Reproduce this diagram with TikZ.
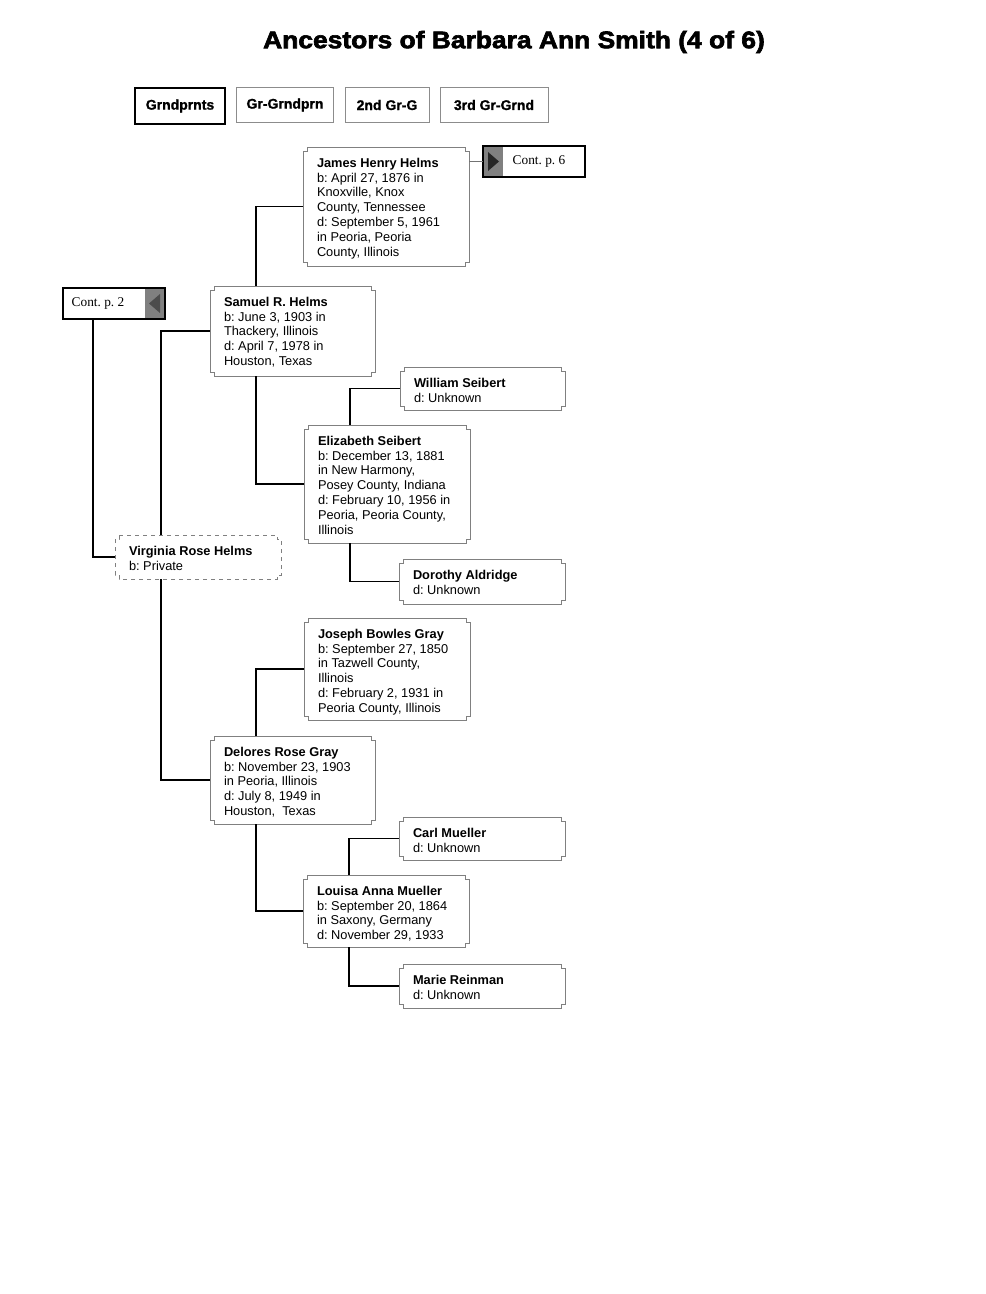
\documentclass[tikz,border=0pt]{standalone}
\usepackage{fontspec}
\setmainfont{Liberation Sans}
\newfontfamily\seriffont{Liberation Serif}
\newfontfamily\heavyfont{Liberation Sans Bold}[FakeBold=2.5]
\newfontfamily\semiheavy{Liberation Sans Bold}[FakeBold=1.2]
\frenchspacing
\tikzset{
  boxn/.style={rectangle, draw=none, inner sep=0pt, outer sep=0pt},
  outline/.style={draw=black!50, line width=0.7pt},
  txt/.style={inner sep=0pt, outer sep=0pt, align=left, anchor=north west,
    font=\fontsize{9.6}{11.1}\selectfont},
  link/.style={line width=1.3pt, black},
  hdr/.style={rectangle, draw=black!45, line width=0.7pt, inner sep=0pt, outer sep=0pt,
    font=\semiheavy\fontsize{10.5}{12}\selectfont},
  hdrsel/.style={hdr, draw=black, line width=1.2pt},
  contbox/.style={rectangle, draw=black, line width=1.3pt, inner sep=0pt, outer sep=0pt,
    minimum width=76.5pt, minimum height=23.25pt},
  conttxt/.style={inner sep=0pt, font=\seriffont\fontsize{10}{12}\selectfont},
}
% #1 extra outline style, #2 name, #3 x1, #4 y1, #5 x2, #6 y2, #7 text
\newcommand\pbox[7][]{%
  \node[boxn, minimum width={(#5-#3)*0.75pt}, minimum height={(#6-#4)*0.75pt}]
    (#2) at ({(#3+#5)/2},{(#4+#6)/2}) {};
  \draw[outline,#1] (#3+4,#4) -- (#5-4,#4) -- (#5-4,#4+4) -- (#5,#4+4) -- (#5,#6-4)
    -- (#5-4,#6-4) -- (#5-4,#6) -- (#3+4,#6) -- (#3+4,#6-4) -- (#3,#6-4) -- (#3,#4+4)
    -- (#3+4,#4+4) -- cycle;
  \node[txt] (#2-t) at (#3+14,#4+11) {#7};
}
\begin{document}
\begin{tikzpicture}[x=0.75pt,y=-0.75pt]
\useasboundingbox[fill=white] (0,0) rectangle (985,1294);

% title
\node[inner sep=0pt, font=\heavyfont\fontsize{18}{21}\selectfont] (title) at (514,42)
  {\scalebox{1.1}[1]{Ancestors of Barbara Ann Smith (4 of 6)}};

% header buttons
\node[hdrsel, minimum width={90*0.75pt}, minimum height={36*0.75pt}] (h1) at (180,106) {Grndprnts};
\node[hdr, minimum width={97*0.75pt}, minimum height={35*0.75pt}] (h2) at (285,105) {Gr-Grndprn};
\node[hdr, minimum width={84*0.75pt}, minimum height={35*0.75pt}] (h3) at (387,105) {2nd Gr-G};
\node[hdr, minimum width={108*0.75pt}, minimum height={35*0.75pt}] (h4) at (494,105) {3rd Gr-Grnd};

% person boxes
\pbox{james}{303}{147}{469}{266}{\textbf{James Henry Helms}\\b: April 27, 1876 in\\Knoxville, Knox\\County, Tennessee\\d: September 5, 1961\\in Peoria, Peoria\\County, Illinois}
\pbox{sam}{210}{286}{375}{376}{\textbf{Samuel R. Helms}\\b: June 3, 1903 in\\Thackery, Illinois\\d: April 7, 1978 in\\Houston, Texas}
\pbox{will}{400}{367}{565}{410}{\textbf{William Seibert}\\d: Unknown}
\pbox{eliz}{304}{425}{470}{543}{\textbf{Elizabeth Seibert}\\b: December 13, 1881\\in New Harmony,\\Posey County, Indiana\\d: February 10, 1956 in\\Peoria, Peoria County,\\Illinois}
\pbox[dashed]{vir}{115}{535}{281}{579}{\textbf{Virginia Rose Helms}\\b: Private}
\pbox{doro}{399}{559}{565}{604}{\textbf{Dorothy Aldridge}\\d: Unknown}
\pbox{jos}{304}{618}{470}{720}{\textbf{Joseph Bowles Gray}\\b: September 27, 1850\\in Tazwell County,\\Illinois\\d: February 2, 1931 in\\Peoria County, Illinois}
\pbox{del}{210}{736}{375}{824}{\textbf{Delores Rose Gray}\\b: November 23, 1903\\in Peoria, Illinois\\d: July 8, 1949 in\\Houston,~ Texas}
\pbox{carl}{399}{817}{565}{860}{\textbf{Carl Mueller}\\d: Unknown}
\pbox{lou}{303}{875}{469}{947}{\textbf{Louisa Anna Mueller}\\b: September 20, 1864\\in Saxony, Germany\\d: November 29, 1933}
\pbox{marie}{399}{964}{565}{1008}{\textbf{Marie Reinman}\\d: Unknown}

% continuation boxes
\node[contbox] (c6) at (534,161.5) {};
\fill[black!50] (c6.north west) rectangle ++(20,31);
\fill[black!85] (488,152) -- (499,161.5) -- (488,171) -- cycle;
\node[contbox] at (c6) {};
\node[conttxt] (c6t) at (539,161.5) {Cont. p. 6};

\node[contbox] (c2) at (114,303.5) {};
\fill[black!50] (c2.north east) rectangle ++(-20,31);
\fill[black!70] (160,294) -- (149,303.5) -- (160,313) -- cycle;
\node[contbox] at (c2) {};
\node[conttxt] (c2t) at (98,303.5) {Cont. p. 2};

% connectors
\draw[black!55, line width=1pt] (c6.west) -- (c6.west -| james.east);
\draw[link] (sam.north west) ++(46,0) |- (james.west);
\draw[link] (sam.south west) ++(46,0) |- (eliz.west);
\draw[link] (eliz.north west) ++(46,0) |- (will.west);
\draw[link] (eliz.south west) ++(46,0) |- (doro.west);
\draw[link] (c2.south west) ++(30,0) |- (vir.west);
\draw[link] (vir.north west) ++(46,0) |- (sam.west);
\draw[link] (vir.south west) ++(46,0) |- (del.west);
\draw[link] (del.north west) ++(46,0) |- (jos.west);
\draw[link] (del.south west) ++(46,0) |- (lou.west);
\draw[link] (lou.north west) ++(46,0) |- (carl.west);
\draw[link] (lou.south west) ++(46,0) |- (marie.west);
\end{tikzpicture}
\end{document}
